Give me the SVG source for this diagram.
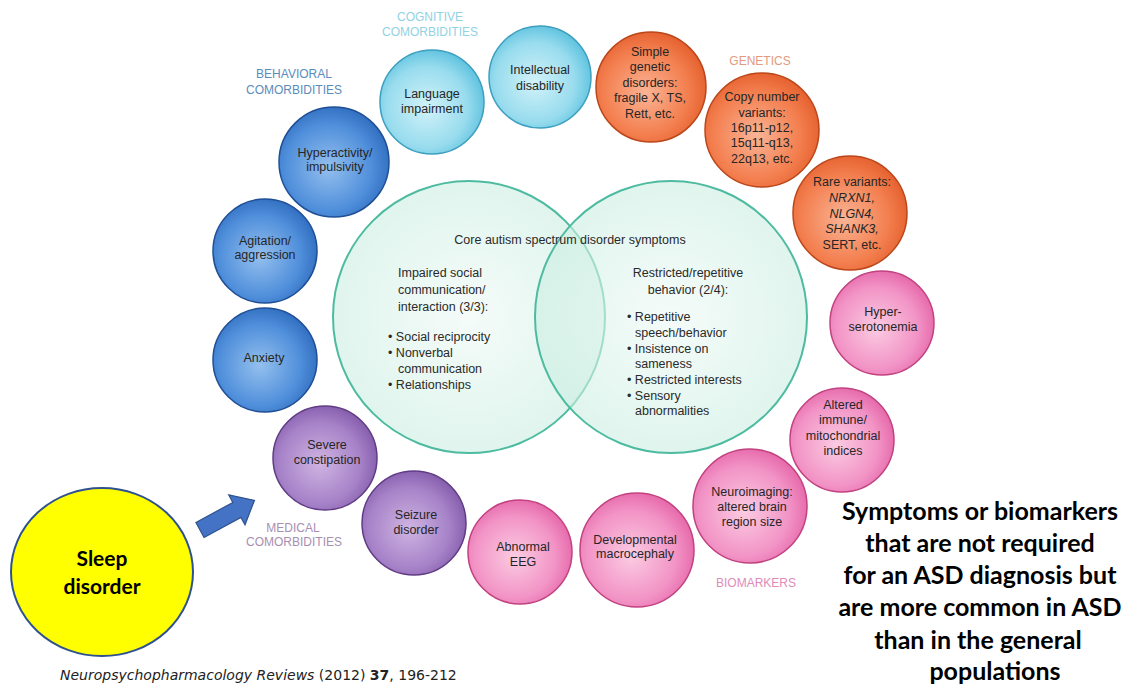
<svg xmlns="http://www.w3.org/2000/svg" width="1128" height="684" viewBox="0 0 1128 684">
<defs>
<radialGradient id="gCyan" cx="0.45" cy="0.55" r="0.6"><stop offset="0" stop-color="#d2f2f9"/><stop offset="0.65" stop-color="#98dcee"/><stop offset="1" stop-color="#55bedc"/></radialGradient>
<radialGradient id="gBlue" cx="0.45" cy="0.55" r="0.6"><stop offset="0" stop-color="#94c0ee"/><stop offset="0.65" stop-color="#508fdb"/><stop offset="1" stop-color="#2c69bc"/></radialGradient>
<radialGradient id="gOrange" cx="0.45" cy="0.55" r="0.6"><stop offset="0" stop-color="#fab496"/><stop offset="0.65" stop-color="#f37e4e"/><stop offset="1" stop-color="#e35c2a"/></radialGradient>
<radialGradient id="gPurple" cx="0.45" cy="0.55" r="0.6"><stop offset="0" stop-color="#d0b4e2"/><stop offset="0.65" stop-color="#a682c8"/><stop offset="1" stop-color="#8058a8"/></radialGradient>
<radialGradient id="gPink" cx="0.45" cy="0.55" r="0.6"><stop offset="0" stop-color="#fbcbe2"/><stop offset="0.65" stop-color="#f294c6"/><stop offset="1" stop-color="#e462a6"/></radialGradient>
<radialGradient id="gVenn" cx="0.5" cy="0.5" r="0.5"><stop offset="0" stop-color="#eef9f5"/><stop offset="1" stop-color="#cbeee2"/></radialGradient>
</defs>
<style>
.cyan{fill:url(#gCyan);stroke:#3d9fbf;stroke-width:1.5}
.blue{fill:url(#gBlue);stroke:#1f4f95;stroke-width:1.5}
.orange{fill:url(#gOrange);stroke:#bb4619;stroke-width:1.5}
.purple{fill:url(#gPurple);stroke:#603c86;stroke-width:1.5}
.pink{fill:url(#gPink);stroke:#c24280;stroke-width:1.5}
.venn{fill:url(#gVenn);fill-opacity:0.6;stroke:#4dbb9f;stroke-width:2}
.lbl{font-family:"Liberation Sans",Arial,sans-serif;font-size:12.5px;fill:#262626;text-anchor:middle}
.vt{font-family:"Liberation Sans",Arial,sans-serif;font-size:12.5px;fill:#2a2a2a}
.cat{font-family:"Liberation Sans",Arial,sans-serif;font-size:12px;text-anchor:middle}
.big{font-family:Lato,"Open Sans",sans-serif;font-weight:bold;font-size:25px;fill:#000;text-anchor:middle}
</style>
<rect width="1128" height="684" fill="#fff"/>

<g id="venn">
<circle class="venn" cx="469" cy="317" r="136"/>
<circle class="venn" cx="671" cy="317" r="136"/>
<text class="vt" x="570" y="244" text-anchor="middle">Core autism spectrum disorder symptoms</text>
<text class="vt" x="398" y="277">Impaired social</text>
<text class="vt" x="398" y="294">communication/</text>
<text class="vt" x="398" y="311">interaction (3/3):</text>
<text class="vt" x="388" y="341">• Social reciprocity</text>
<text class="vt" x="388" y="357">• Nonverbal</text>
<text class="vt" x="398" y="373">communication</text>
<text class="vt" x="388" y="389">• Relationships</text>
<text class="vt" x="688" y="277" text-anchor="middle">Restricted/repetitive</text>
<text class="vt" x="688" y="294" text-anchor="middle">behavior (2/4):</text>
<text class="vt" x="627" y="321">• Repetitive</text>
<text class="vt" x="635" y="337">speech/behavior</text>
<text class="vt" x="627" y="353">• Insistence on</text>
<text class="vt" x="635" y="368">sameness</text>
<text class="vt" x="627" y="384">• Restricted interests</text>
<text class="vt" x="627" y="400">• Sensory</text>
<text class="vt" x="635" y="415">abnormalities</text>
</g>

<g id="cognitive-label">
<text class="cat" x="430" y="21" fill="#92d2e2">COGNITIVE</text>
<text class="cat" x="430" y="36" fill="#92d2e2">COMORBIDITIES</text>
</g>
<g id="behavioral-label">
<text class="cat" x="294" y="78" fill="#5a8cbd">BEHAVIORAL</text>
<text class="cat" x="294" y="94" fill="#5a8cbd">COMORBIDITIES</text>
</g>
<g id="genetics-label">
<text class="cat" x="760" y="65" fill="#e39a7c">GENETICS</text>
</g>
<g id="medical-label">
<text class="cat" x="293" y="532" fill="#a88eb2">MEDICAL</text>
<text class="cat" x="294" y="546" fill="#a88eb2">COMORBIDITIES</text>
</g>
<g id="biomarkers-label">
<text class="cat" x="756" y="587" fill="#e08cb8">BIOMARKERS</text>
</g>

<g id="language-impairment">
<circle class="cyan" cx="432" cy="102" r="52"/>
<text class="lbl" x="432" y="98">Language</text>
<text class="lbl" x="432" y="113">impairment</text>
</g>
<g id="intellectual-disability">
<circle class="cyan" cx="540" cy="77" r="51"/>
<text class="lbl" x="540" y="74">Intellectual</text>
<text class="lbl" x="540" y="90">disability</text>
</g>
<g id="hyperactivity">
<circle class="blue" cx="334" cy="162" r="55"/>
<text class="lbl" x="335" y="157">Hyperactivity/</text>
<text class="lbl" x="335" y="171">impulsivity</text>
</g>
<g id="agitation">
<circle class="blue" cx="265" cy="251" r="52"/>
<text class="lbl" x="265" y="245">Agitation/</text>
<text class="lbl" x="265" y="259">aggression</text>
</g>
<g id="anxiety">
<circle class="blue" cx="265" cy="360" r="52"/>
<text class="lbl" x="264" y="362">Anxiety</text>
</g>
<g id="severe-constipation">
<circle class="purple" cx="325" cy="458" r="52"/>
<text class="lbl" x="327" y="449">Severe</text>
<text class="lbl" x="327" y="464">constipation</text>
</g>
<g id="seizure-disorder">
<circle class="purple" cx="414" cy="523" r="52"/>
<text class="lbl" x="416" y="519">Seizure</text>
<text class="lbl" x="416" y="534">disorder</text>
</g>
<g id="abnormal-eeg">
<circle class="pink" cx="520" cy="552" r="52"/>
<text class="lbl" x="523" y="551">Abnormal</text>
<text class="lbl" x="523" y="566">EEG</text>
</g>
<g id="developmental-macrocephaly">
<circle class="pink" cx="637" cy="550" r="57"/>
<text class="lbl" x="635" y="544">Developmental</text>
<text class="lbl" x="635" y="558">macrocephaly</text>
</g>
<g id="neuroimaging">
<circle class="pink" cx="750" cy="506" r="57"/>
<text class="lbl" x="752" y="496">Neuroimaging:</text>
<text class="lbl" x="752" y="511">altered brain</text>
<text class="lbl" x="752" y="526">region size</text>
</g>
<g id="altered-immune">
<circle class="pink" cx="842" cy="440" r="52"/>
<text class="lbl" x="843" y="409">Altered</text>
<text class="lbl" x="843" y="424">immune/</text>
<text class="lbl" x="843" y="440">mitochondrial</text>
<text class="lbl" x="843" y="455">indices</text>
</g>
<g id="hyperserotonemia">
<circle class="pink" cx="882" cy="323" r="52"/>
<text class="lbl" x="883" y="316">Hyper-</text>
<text class="lbl" x="883" y="331">serotonemia</text>
</g>
<g id="rare-variants">
<circle class="orange" cx="850" cy="213" r="57"/>
<text class="lbl" x="852" y="186">Rare variants:</text>
<text class="lbl" x="852" y="202" font-style="italic">NRXN1,</text>
<text class="lbl" x="852" y="218" font-style="italic">NLGN4,</text>
<text class="lbl" x="852" y="233" font-style="italic">SHANK3,</text>
<text class="lbl" x="852" y="249">SERT, etc.</text>
</g>
<g id="copy-number-variants">
<circle class="orange" cx="762" cy="130" r="57"/>
<text class="lbl" x="762" y="101">Copy number</text>
<text class="lbl" x="762" y="117">variants:</text>
<text class="lbl" x="762" y="132">16p11-p12,</text>
<text class="lbl" x="762" y="147">15q11-q13,</text>
<text class="lbl" x="762" y="163">22q13, etc.</text>
</g>
<g id="simple-genetic-disorders">
<circle class="orange" cx="651" cy="87" r="55"/>
<text class="lbl" x="650" y="56">Simple</text>
<text class="lbl" x="650" y="71">genetic</text>
<text class="lbl" x="650" y="87">disorders:</text>
<text class="lbl" x="650" y="102">fragile X, TS,</text>
<text class="lbl" x="650" y="118">Rett, etc.</text>
</g>

<g id="sleep-disorder">
<ellipse cx="102" cy="572" rx="91" ry="84" fill="#ffff00" stroke="#2f528f" stroke-width="2"/>
<text x="102" y="566" font-family="Lato,'Open Sans',sans-serif" font-weight="bold" font-size="21" text-anchor="middle">Sleep</text>
<text x="102" y="594" font-family="Lato,'Open Sans',sans-serif" font-weight="bold" font-size="21" text-anchor="middle">disorder</text>
</g>

<g id="connectors">
<polygon points="0,-8.5 42,-8.5 42,-17 62,0 42,17 42,8.5 0,8.5" transform="translate(200,530) rotate(-28.6)" fill="#4472c4" stroke="#2f528f" stroke-width="1.2"/>
</g>

<g id="note">
<text class="big" x="980" y="520">Symptoms or biomarkers</text>
<text class="big" x="980" y="552">that are not required</text>
<text class="big" x="980" y="584">for an ASD diagnosis but</text>
<text class="big" x="980" y="616">are more common in ASD</text>
<text class="big" x="978" y="649">than in the general</text>
<text class="big" x="995" y="680">populations</text>
</g>

<g id="citation">
<text x="60" y="680" font-family="'DejaVu Sans',Verdana,sans-serif" font-size="14" fill="#222"><tspan font-style="italic">Neuropsychopharmacology Reviews</tspan> (2012) <tspan font-weight="bold">37</tspan>, 196-212</text>
</g>
</svg>
